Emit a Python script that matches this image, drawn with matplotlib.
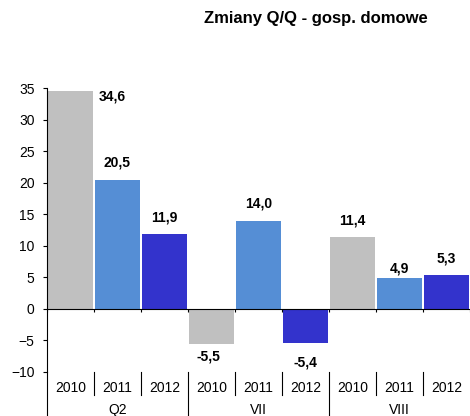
import matplotlib
matplotlib.use("Agg")
import matplotlib.pyplot as plt
import matplotlib.transforms as mtransforms

plt.rcParams['font.family'] = ['Liberation Sans', 'DejaVu Sans']

# data
years = ["2010", "2011", "2012"] * 3
groups = ["Q2", "VII", "VIII"]
values = [34.6, 20.5, 11.9, -5.5, 14.0, -5.4, 11.4, 4.9, 5.3]
year_colors = {"2010": "#C0C0C0", "2011": "#558ED5", "2012": "#3333CC"}

# label offsets in points (dx, dy) - reference places them a bit irregularly
offsets = [(30, -4), (0, 12), (0, 12), (-2, -9.5), (0, 12), (0, -14), (0, 12), (0, 7), (0, 12)]

fig = plt.figure(figsize=(4.7, 4.16), dpi=100)
ax = fig.add_axes([0.1, 0.106, 0.9, 0.682])

x = list(range(len(values)))
ax.bar(x, values, width=0.97, color=[year_colors[y] for y in years], zorder=2)

ax.set_xlim(-0.5, 8.5)
ax.set_ylim(-10, 35)
ax.set_yticks(range(-10, 36, 5))
ax.tick_params(axis='y', labelsize=10, length=3, width=0.8, direction='out', pad=6)
ax.set_xticks([])
for s in ['top', 'right', 'bottom']:
    ax.spines[s].set_visible(False)
ax.spines['left'].set_linewidth(0.8)

# zero line with small ticks at slot borders
ax.axhline(0, color='black', lw=0.8, zorder=3)
ax.vlines([i - 0.5 for i in range(10)], -0.5, 0, color='black', lw=0.8, zorder=3)

for xi, v, (dx, dy) in zip(x, values, offsets):
    txt = f"{v:.1f}".replace('.', ',')
    ax.annotate(txt, (xi, v), xytext=(dx, dy), textcoords='offset points',
                ha='center', va='center', fontsize=10, fontweight='bold')

# category axis below plot
trans = mtransforms.blended_transform_factory(ax.transData, ax.transAxes)
for xi, y in zip(x, years):
    ax.text(xi, -0.056, y, transform=trans, ha='center', va='center', fontsize=10)
for gi, g in enumerate(groups):
    ax.text(gi * 3 + 1, -0.134, g, transform=trans, ha='center', va='center', fontsize=10)
for b in range(0, 9):
    low = -0.16 if b % 3 == 0 else -0.081
    ax.plot([b - 0.5, b - 0.5], [0, low], transform=trans, color='black', lw=0.8, clip_on=False)

fig.text(0.672, 0.955, "Zmiany Q/Q - gosp. domowe", ha='center', va='center',
         fontsize=12, fontweight='bold')

fig.savefig("out.png", dpi=100)
